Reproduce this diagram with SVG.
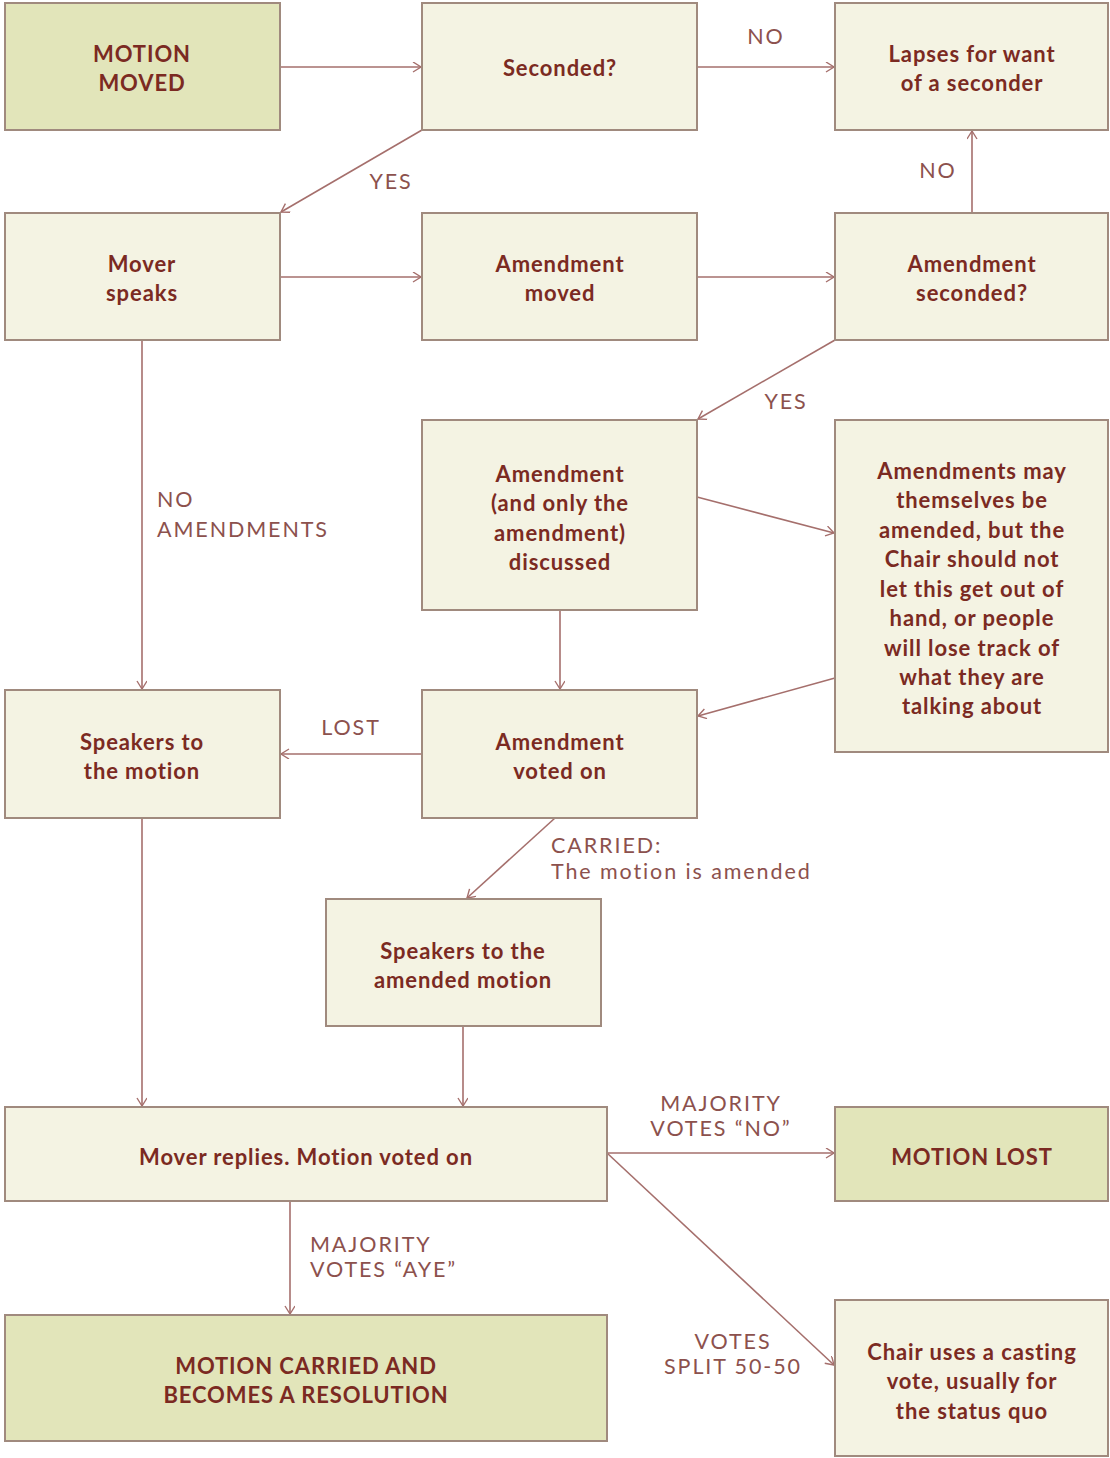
<svg xmlns="http://www.w3.org/2000/svg" width="1110" height="1458" viewBox="0 0 1110 1458">
<defs>
<marker id="arr" markerWidth="12" markerHeight="12" refX="9" refY="5" orient="auto" markerUnits="userSpaceOnUse">
<path d="M1,0 L9,5 L1,10" fill="none" stroke="#a56f6c" stroke-width="1.4"/>
</marker>
<style>
.bx{stroke:#a08a7e;stroke-width:2}
.dk{fill:#e2e5ba}
.lt{fill:#f4f3e3}
.t{font-family:"Lato","Open Sans",sans-serif;font-weight:700;font-size:22px;fill:#7b2a22;text-anchor:middle;letter-spacing:0.9px}
.l{font-family:"Lato","Open Sans",sans-serif;font-weight:400;font-size:21.5px;fill:#8c514d;letter-spacing:1.9px}
.c{stroke:#a56f6c;stroke-width:1.6;fill:none;marker-end:url(#arr)}
</style>
</defs>
<rect width="1110" height="1458" fill="#ffffff"/>
<g id="connectors">
<line class="c" x1="280" y1="67" x2="421" y2="67"/>
<line class="c" x1="697" y1="67" x2="834" y2="67"/>
<line class="c" x1="422" y1="130" x2="281" y2="212"/>
<line class="c" x1="972" y1="213" x2="972" y2="131"/>
<line class="c" x1="280" y1="277" x2="421" y2="277"/>
<line class="c" x1="697" y1="277" x2="834" y2="277"/>
<line class="c" x1="835" y1="340" x2="698" y2="419"/>
<line class="c" x1="142" y1="340" x2="142" y2="689"/>
<line class="c" x1="697" y1="497" x2="834" y2="533"/>
<line class="c" x1="560" y1="610" x2="560" y2="689"/>
<line class="c" x1="835" y1="678" x2="698" y2="716"/>
<line class="c" x1="422" y1="754" x2="281" y2="754"/>
<line class="c" x1="555" y1="818" x2="467" y2="898"/>
<line class="c" x1="142" y1="818" x2="142" y2="1106"/>
<line class="c" x1="463" y1="1026" x2="463" y2="1106"/>
<line class="c" x1="607" y1="1153" x2="834" y2="1153"/>
<line class="c" x1="290" y1="1201" x2="290" y2="1314"/>
<line class="c" x1="607" y1="1153" x2="834" y2="1365"/>
<text class="l" x="766" y="44" text-anchor="middle">NO</text>
<text class="l" x="391" y="189" text-anchor="middle">YES</text>
<text class="l" x="938" y="178" text-anchor="middle">NO</text>
<text class="l" x="786" y="409" text-anchor="middle">YES</text>
<text class="l" x="157" y="507">NO</text>
<text class="l" x="157" y="537">AMENDMENTS</text>
<text class="l" x="351" y="735" text-anchor="middle">LOST</text>
<text class="l" x="551" y="853">CARRIED:</text>
<text class="l" x="551" y="879">The motion is amended</text>
<text class="l" x="721" y="1111" text-anchor="middle">MAJORITY</text>
<text class="l" x="721" y="1136" text-anchor="middle">VOTES “NO”</text>
<text class="l" x="310" y="1252">MAJORITY</text>
<text class="l" x="310" y="1277">VOTES “AYE”</text>
<text class="l" x="733" y="1349" text-anchor="middle">VOTES</text>
<text class="l" x="733" y="1374" text-anchor="middle">SPLIT 50-50</text>
</g>
<g id="motion-moved"><rect class="bx dk" x="5" y="3" width="275" height="127"/><text class="t" x="142" y="62">MOTION</text><text class="t" x="142" y="91">MOVED</text></g>
<g id="seconded"><rect class="bx lt" x="422" y="3" width="275" height="127"/><text class="t" x="560" y="76">Seconded?</text></g>
<g id="lapses"><rect class="bx lt" x="835" y="3" width="273" height="127"/><text class="t" x="972" y="62">Lapses for want</text><text class="t" x="972" y="91">of a seconder</text></g>
<g id="mover-speaks"><rect class="bx lt" x="5" y="213" width="275" height="127"/><text class="t" x="142" y="272">Mover</text><text class="t" x="142" y="301">speaks</text></g>
<g id="amendment-moved"><rect class="bx lt" x="422" y="213" width="275" height="127"/><text class="t" x="560" y="272">Amendment</text><text class="t" x="560" y="301">moved</text></g>
<g id="amendment-seconded"><rect class="bx lt" x="835" y="213" width="273" height="127"/><text class="t" x="972" y="272">Amendment</text><text class="t" x="972" y="301">seconded?</text></g>
<g id="amendment-discussed"><rect class="bx lt" x="422" y="420" width="275" height="190"/><text class="t" x="560" y="482">Amendment</text><text class="t" x="560" y="511">(and only the</text><text class="t" x="560" y="541">amendment)</text><text class="t" x="560" y="570">discussed</text></g>
<g id="amendments-note"><rect class="bx lt" x="835" y="420" width="273" height="332"/>
<text class="t" x="972" y="479">Amendments may</text><text class="t" x="972" y="508">themselves be</text><text class="t" x="972" y="538">amended, but the</text><text class="t" x="972" y="567">Chair should not</text><text class="t" x="972" y="597">let this get out of</text><text class="t" x="972" y="626">hand, or people</text><text class="t" x="972" y="656">will lose track of</text><text class="t" x="972" y="685">what they are</text><text class="t" x="972" y="714">talking about</text></g>
<g id="speakers-motion"><rect class="bx lt" x="5" y="690" width="275" height="128"/><text class="t" x="142" y="750">Speakers to</text><text class="t" x="142" y="779">the motion</text></g>
<g id="amendment-voted"><rect class="bx lt" x="422" y="690" width="275" height="128"/><text class="t" x="560" y="750">Amendment</text><text class="t" x="560" y="779">voted on</text></g>
<g id="speakers-amended"><rect class="bx lt" x="326" y="899" width="275" height="127"/><text class="t" x="463" y="959">Speakers to the</text><text class="t" x="463" y="988">amended motion</text></g>
<g id="mover-replies"><rect class="bx lt" x="5" y="1107" width="602" height="94"/><text class="t" x="306" y="1165">Mover replies. Motion voted on</text></g>
<g id="motion-lost"><rect class="bx dk" x="835" y="1107" width="273" height="94"/><text class="t" x="972" y="1165">MOTION LOST</text></g>
<g id="motion-carried"><rect class="bx dk" x="5" y="1315" width="602" height="126"/><text class="t" x="306" y="1374">MOTION CARRIED AND</text><text class="t" x="306" y="1403">BECOMES A RESOLUTION</text></g>
<g id="casting-vote"><rect class="bx lt" x="835" y="1300" width="273" height="156"/><text class="t" x="972" y="1360">Chair uses a casting</text><text class="t" x="972" y="1389">vote, usually for</text><text class="t" x="972" y="1419">the status quo</text></g>
</svg>
